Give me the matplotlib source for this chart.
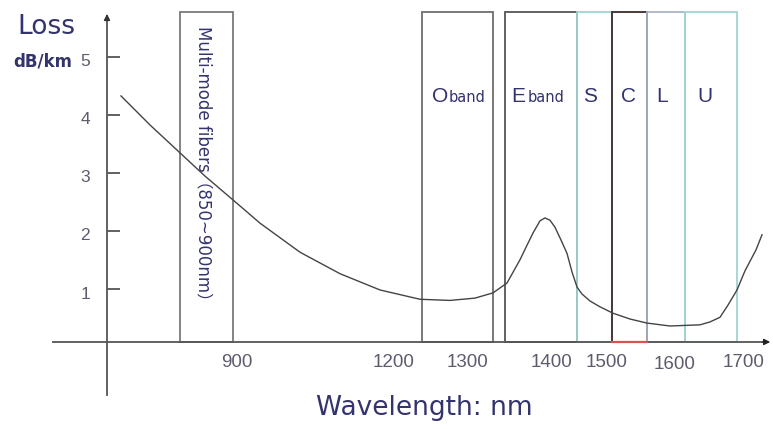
import matplotlib.pyplot as plt
from matplotlib.patches import Rectangle

# ---- data (x = schematic position along the wavelength axis, y = loss dB/km) ----
curve_x = [121, 150, 180, 205, 233, 260, 300, 340, 380, 420, 450, 475, 493, 507,
           520, 527, 533, 540, 545, 550, 555, 561, 567, 572, 577, 582, 590, 600,
           613, 630, 647, 670, 685, 700, 710, 720, 728, 737, 745, 756, 762]
curve_loss = [4.33, 3.83, 3.35, 2.95, 2.54, 2.14, 1.64, 1.27, 0.99, 0.83, 0.81, 0.85,
              0.94, 1.11, 1.51, 1.76, 1.97, 2.18, 2.23, 2.19, 2.07, 1.85, 1.62, 1.30,
              1.04, 0.92, 0.80, 0.70, 0.59, 0.49, 0.42, 0.37, 0.38, 0.39, 0.44, 0.52,
              0.73, 0.99, 1.32, 1.68, 1.94]

band_labels = ["", "O", "E", "S", "C", "L", "U"]
band_left = [180, 422, 505, 577, 612, 647, 685]
band_right = [233, 493, 577, 612, 647, 685, 737]
band_edge = ["#7a7a7a", "#6e6e6e", "#555555", "#9fd6cf", "#3e2a2a", "#a9b4c6", "#9fd6cf"]

xtick_pos = [237, 394, 467, 551, 607, 675, 744]
xtick_labels = ["900", "1200", "1300", "1400", "1500", "1600", "1700"]
ytick_vals = [1, 2, 3, 4, 5]

# ---- figure: axes fill the whole canvas, 58.1 px per dB/km ----
fig = plt.figure(figsize=(7.73, 4.29), dpi=100)
ax = fig.add_axes([0, 0, 1, 1])
ax.set_xlim(0, 773)
ax.set_ylim(-1.403, 5.981)
ax.axis("off")

base = 0.095   # height of the horizontal axis line
top = 5.77     # top of the band boxes
axis_col = "#555555"
navy = "#33336e"
grey_txt = "#5c5c6e"

# band boxes
for lab, l, r, ec in zip(band_labels, band_left, band_right, band_edge):
    ax.add_patch(Rectangle((l, base), r - l, top - base, fill=False,
                           edgecolor=ec, linewidth=1.3, zorder=2))
# red bottom of the C band
ax.plot([band_left[4], band_right[4]], [base, base], color="#d9534f", lw=1.6, zorder=6)

# loss curve
ax.plot(curve_x, curve_loss, color="#444444", lw=1.0, zorder=4)

# axes with arrows
ax.plot([107, 107], [-0.82, 5.7], color=axis_col, lw=1.3, zorder=5)
ax.annotate("", xy=(107, 5.79), xytext=(107, 5.6),
            arrowprops=dict(arrowstyle="-|>", color="#333333", lw=1.0,
                            mutation_scale=9), zorder=5)
ax.plot([53, 766], [base, base], color=axis_col, lw=1.3, zorder=5)
ax.annotate("", xy=(773, base), xytext=(760, base),
            arrowprops=dict(arrowstyle="-|>", color="#222222", lw=1.0,
                            mutation_scale=9), zorder=5)

# y ticks and labels
ax.hlines(ytick_vals, 107, 120, color=axis_col, lw=1.3, zorder=5)
for v in ytick_vals:
    ax.text(85, v - 0.08, str(v), ha="center", va="center", fontsize=12.5,
            color=grey_txt, family="Liberation Sans")

# x tick labels
for pos, lab in zip(xtick_pos, xtick_labels):
    yy = -0.30 if lab == "1600" else -0.265
    ax.text(pos, yy, lab, ha="center", va="center", fontsize=13.5,
            color=grey_txt, family="Liberation Sans")

# band labels
ax.text(432, 4.22, "O", ha="left", va="baseline", fontsize=15, color=navy,
        family="Liberation Sans")
ax.text(449, 4.22, "band", ha="left", va="baseline", fontsize=10.5, color=navy)
ax.text(511, 4.22, "E", ha="left", va="baseline", fontsize=15, color=navy,
        family="Liberation Sans")
ax.text(528, 4.22, "band", ha="left", va="baseline", fontsize=10.5, color=navy)
for lab, xc in zip(["S", "C", "L", "U"], [590.5, 628.5, 662, 704.5]):
    ax.text(xc, 4.22, lab, ha="center", va="baseline", fontsize=15, color=navy,
            family="Liberation Sans")

ax.text(204, 3.1, "Multi-mode fibers（850~900nm）", rotation=-90,
        ha="center", va="center", fontsize=12, color=navy,
        family=["DejaVu Sans", "Noto Sans CJK SC"])

# axis titles
ax.text(46.5, 5.52, "Loss", ha="center", va="center", fontsize=19, color=navy)
ax.text(42.5, 4.92, "dB/km", ha="center", va="center", fontsize=12,
        fontweight="bold", color=navy)
ax.text(424, -1.04, "Wavelength: nm", ha="center", va="center", fontsize=19,
        color=navy)

fig.savefig("out.png", dpi=100, facecolor="white")
